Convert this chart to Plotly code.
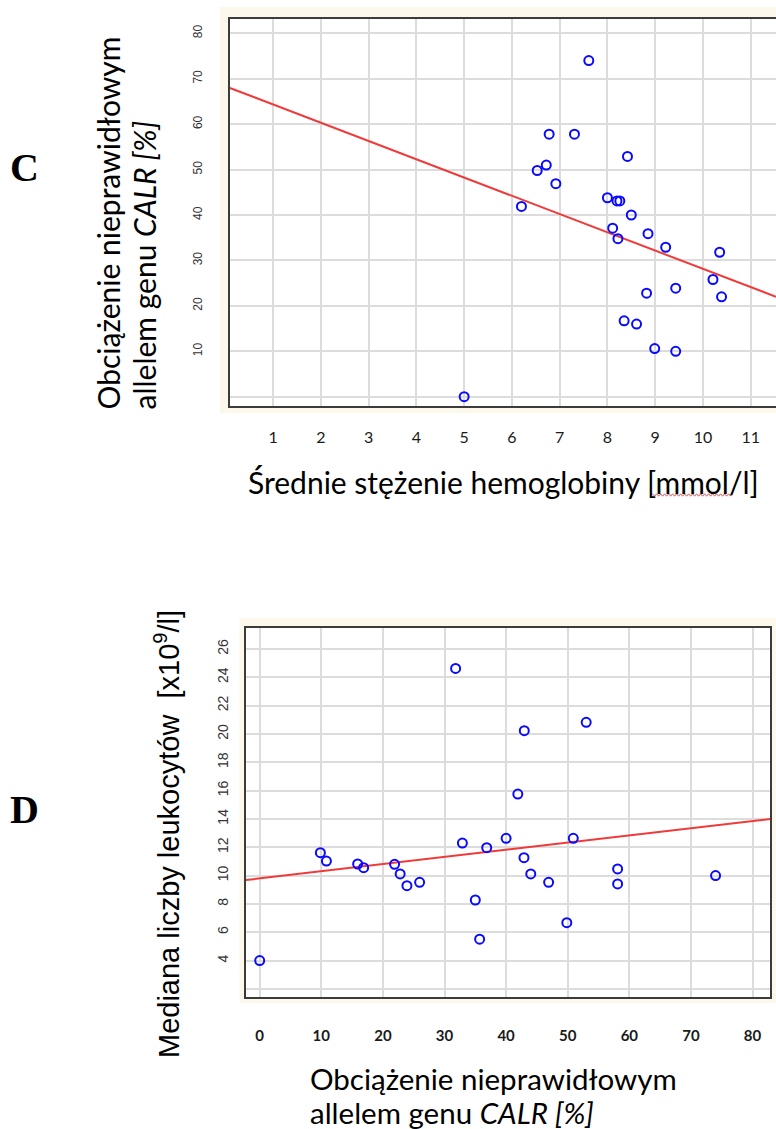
import plotly.graph_objects as go

W, H = 776, 1129

# ---------------- Panel C data ----------------
hb_mean = [7.61, 6.78, 7.31, 8.42, 6.53, 6.72, 6.92, 6.20, 8.00, 8.20, 8.26, 8.50, 8.11,
           8.22, 8.85, 9.22, 10.35, 10.21, 9.43, 8.82, 10.39, 8.35, 8.61, 8.99, 9.43, 5.00]
calr_c = [74.0, 57.8, 57.8, 52.9, 49.8, 51.0, 46.9, 41.9, 43.8, 43.1, 43.1, 40.0, 37.1,
          34.8, 35.9, 32.9, 31.8, 25.8, 23.9, 22.8, 22.0, 16.7, 16.0, 10.6, 10.0, 0.0]
fit_c_intercept = 68.35
fit_c_slope = -4.02
c_xrange = [0.095, 11.53]
c_yrange = [-1.98, 83.15]
c_xticks = [1, 2, 3, 4, 5, 6, 7, 8, 9, 10, 11]
c_yticks = [10, 20, 30, 40, 50, 60, 70, 80]
c_ygrid_extra = [0]

# ---------------- Panel D data ----------------
calr_d = [31.8, 42.95, 53.0, 41.9, 32.9, 36.85, 40.0, 50.9, 9.85, 10.83, 15.9, 16.87, 21.9,
          22.8, 23.9, 25.96, 35.0, 35.7, 42.9, 44.0, 46.9, 49.85, 58.1, 58.1, 74.0, 0.0]
wbc_d = [24.63, 20.23, 20.82, 15.76, 12.30, 11.97, 12.63, 12.63, 11.62, 11.03, 10.82, 10.56, 10.80,
         10.12, 9.29, 9.53, 8.28, 5.51, 11.27, 10.12, 9.53, 6.68, 10.47, 9.41, 10.0, 4.0]
fit_d_intercept = 9.80
fit_d_slope = 0.0506
d_xrange = [-2.24, 82.9]
d_yrange = [1.41, 27.46]
d_xticks = [0, 10, 20, 30, 40, 50, 60, 70, 80]
d_yticks = [4, 6, 8, 10, 12, 14, 16, 18, 20, 22, 24, 26]
d_ygrid_extra = [2]


def px(x):
    return x / W


def py(y):
    return 1 - y / H


BLUE = "#0a0aff"
RED = "#f03a3a"
GRID = "#dcdcdc"
FRAME = "#3c3c3c"
BEIGE = "#fdf8ec"
CAL = "Lato, Carlito, sans-serif"
ARIAL = "Liberation Sans, Arial, sans-serif"

fig = go.Figure()

# Panel C
fig.add_trace(go.Scatter(
    x=c_xrange,
    y=[fit_c_intercept + fit_c_slope * v for v in c_xrange],
    mode="lines", line=dict(color=RED, width=2), xaxis="x", yaxis="y",
    showlegend=False, hoverinfo="skip"))
fig.add_trace(go.Scatter(
    x=hb_mean, y=calr_c, mode="markers",
    marker=dict(symbol="circle-open", size=9, color=BLUE, line=dict(width=2, color=BLUE)),
    xaxis="x", yaxis="y", showlegend=False))

# Panel D
fig.add_trace(go.Scatter(
    x=d_xrange,
    y=[fit_d_intercept + fit_d_slope * v for v in d_xrange],
    mode="lines", line=dict(color=RED, width=2), xaxis="x2", yaxis="y2",
    showlegend=False, hoverinfo="skip"))
fig.add_trace(go.Scatter(
    x=calr_d, y=wbc_d, mode="markers",
    marker=dict(symbol="circle-open", size=9, color=BLUE, line=dict(width=2, color=BLUE)),
    xaxis="x2", yaxis="y2", showlegend=False))

axis_common = dict(showgrid=True, gridcolor=GRID, gridwidth=1.5, zeroline=False,
                   showline=True, linecolor=FRAME, linewidth=2,
                   ticks="outside", tickcolor="rgba(0,0,0,0)", fixedrange=True)

c_left, c_right, c_top, c_bot = 229.9, 776, 19, 405.7
d_left, d_right, d_top, d_bot = 245.9, 770.4, 628.3, 997.3

fig.update_layout(
    width=W, height=H,
    margin=dict(l=0, r=0, t=0, b=0),
    paper_bgcolor="white", plot_bgcolor="rgba(0,0,0,0)",
    xaxis=dict(domain=[px(c_left), px(c_right)], range=c_xrange, anchor="y", mirror=True,
               tickvals=c_xticks, ticklen=16,
               tickfont=dict(family=CAL, size=16, color="#1a1a1a"), **axis_common),
    yaxis=dict(domain=[py(c_bot), py(c_top)], range=c_yrange, anchor="x", mirror=False,
               tickvals=c_yticks, tickangle=-90, ticklen=21,
               minor=dict(tickvals=c_ygrid_extra, showgrid=True, gridcolor=GRID, gridwidth=1.5, ticks=""),
               tickfont=dict(family=ARIAL, size=12, color="#333333"), **axis_common),
    xaxis2=dict(domain=[px(d_left), px(d_right)], range=d_xrange, anchor="y2", mirror=True,
                tickvals=d_xticks, ticklen=24,
                tickfont=dict(family=CAL, size=15, color="#1a1a1a", weight="bold"), **axis_common),
    yaxis2=dict(domain=[py(d_bot), py(d_top)], range=d_yrange, anchor="x2", mirror=True,
                tickvals=d_yticks, tickangle=-90, ticklen=10,
                minor=dict(tickvals=d_ygrid_extra, showgrid=True, gridcolor=GRID, gridwidth=1.5, ticks=""),
                tickfont=dict(family=ARIAL, size=14, color="#333333"), **axis_common),
)

shapes = [
    # beige panels
    dict(type="rect", xref="paper", yref="paper", x0=px(220), x1=px(776), y0=py(413), y1=py(7),
         fillcolor=BEIGE, line=dict(width=0), layer="below"),
    dict(type="rect", xref="paper", yref="paper", x0=px(239.5), x1=px(776), y0=py(1003), y1=py(618),
         fillcolor=BEIGE, line=dict(width=0), layer="below"),
    # white plot areas
    dict(type="rect", xref="paper", yref="paper", x0=px(c_left), x1=px(c_right), y0=py(c_bot), y1=py(c_top),
         fillcolor="white", line=dict(width=0), layer="below"),
    dict(type="rect", xref="paper", yref="paper", x0=px(d_left), x1=px(d_right), y0=py(d_bot), y1=py(d_top),
         fillcolor="white", line=dict(width=0), layer="below"),
]

# red spell-check squiggle under "mmol"
sq_x0, sq_x1, sq_y = 652.6, 732.4, 495.0
pts = []
xk = sq_x0
k = 0
while xk <= sq_x1:
    pts.append((px(xk), py(sq_y + (1.2 if k % 2 else -1.2))))
    xk += 2.0
    k += 1
path = "M " + " L ".join(f"{a:.5f},{b:.5f}" for a, b in pts)
shapes.append(dict(type="path", xref="paper", yref="paper", path=path,
                   line=dict(color="#e05050", width=1), layer="above"))

fig.update_layout(shapes=shapes)

SERIF = "Liberation Serif, Times New Roman, serif"
annotations = [
    dict(text="<b>C</b>", x=px(25), y=py(167), font=dict(family=SERIF, size=40, color="black")),
    dict(text="<b>D</b>", x=px(24), y=py(809), font=dict(family=SERIF, size=40, color="black")),
    # panel C y title (two lines, start-aligned at bottom)
    dict(text="Obciążenie nieprawidłowym", x=px(107), y=py(412), yanchor="bottom",
         textangle=-90, font=dict(family=CAL, size=30, color="black")),
    dict(text="allelem genu <i>CALR [%]</i>", x=px(143), y=py(412), yanchor="bottom",
         textangle=-90, font=dict(family=CAL, size=30, color="black")),
    # panel C x title
    dict(text="Średnie stężenie hemoglobiny [mmol/l]", x=px(503.7), y=py(482),
         font=dict(family=CAL, size=30, color="black")),
    # panel D y title
    dict(text="Mediana liczby leukocytów  [x10<sup>9</sup>/l]", x=px(167), y=py(834),
         textangle=-90, font=dict(family=ARIAL, size=29, color="black")),
    # panel D x title (two lines, left aligned)
    dict(text="Obciążenie nieprawidłowym", x=px(308), y=py(1078), xanchor="left",
         font=dict(family=CAL, size=29.5, color="black")),
    dict(text="allelem genu <i>CALR [%]</i>", x=px(308), y=py(1112), xanchor="left",
         font=dict(family=CAL, size=29.5, color="black")),
]
for a in annotations:
    a.setdefault("xanchor", "center")
    a.setdefault("yanchor", "middle")
    a.update(xref="paper", yref="paper", showarrow=False)
fig.update_layout(annotations=annotations)

fig.write_html("out.html")
